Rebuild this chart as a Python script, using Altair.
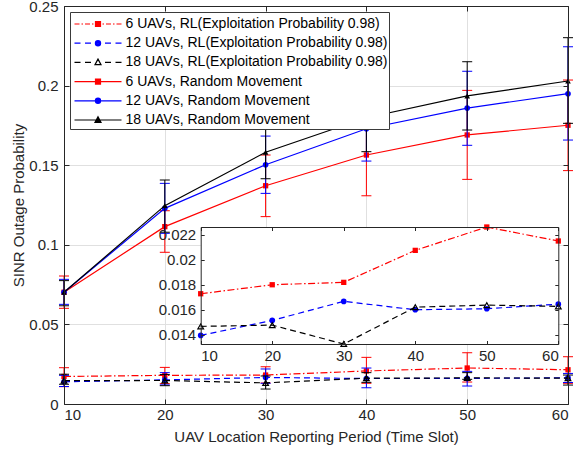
import math
import altair as alt
import pandas as pd

# ---------------- data ----------------
x_vals = [10, 20, 30, 40, 50, 60]

series_names = [
    "6 UAVs, RL(Exploitation Probability 0.98)",
    "12 UAVs, RL(Exploitation Probability 0.98)",
    "18 UAVs, RL(Exploitation Probability 0.98)",
    "6 UAVs, Random Movement",
    "12 UAVs, Random Movement",
    "18 UAVs, Random Movement",
]

rl6 = [0.01728, 0.01800, 0.01819, 0.02075, 0.02262, 0.02150]
rl6_lo = [0.0109, 0.0128, 0.0132, 0.0130, 0.0138, 0.0130]
rl6_hi = [0.0228, 0.0230, 0.0234, 0.0293, 0.0322, 0.0297]

rl12 = [0.01395, 0.01515, 0.01667, 0.01600, 0.01608, 0.01645]
rl12_lo = [0.0110, 0.0120, 0.0130, 0.0102, 0.0113, 0.0135]
rl12_hi = [0.0180, 0.0197, 0.0220, 0.0226, 0.0205, 0.0192]

rl18 = [0.01467, 0.01477, 0.01326, 0.01621, 0.01637, 0.01627]
rl18_lo = [0.0124, 0.0115, 0.0094, 0.0136, 0.0155, 0.0119]
rl18_hi = [0.0187, 0.0185, 0.0176, 0.0197, 0.0197, 0.0182]

rm6 = [0.0702, 0.1114, 0.1371, 0.1564, 0.1690, 0.1751]
rm6_lo = [0.0601, 0.0953, 0.1177, 0.1308, 0.1411, 0.1466]
rm6_hi = [0.0804, 0.1214, 0.1564, 0.1820, 0.1970, 0.2035]

rm12 = [0.0702, 0.1229, 0.1503, 0.1729, 0.1859, 0.1949]
rm12_lo = [0.0626, 0.1072, 0.1323, 0.1526, 0.1625, 0.1658]
rm12_hi = [0.0783, 0.1386, 0.1683, 0.1930, 0.2090, 0.2244]

rm18 = [0.0702, 0.1246, 0.1581, 0.1798, 0.1935, 0.2029]
rm18_lo = [0.0617, 0.1079, 0.1415, 0.1585, 0.1721, 0.1763]
rm18_hi = [0.0775, 0.1407, 0.1738, 0.2008, 0.2150, 0.2301]

y_ticks_main = [0, 0.05, 0.1, 0.15, 0.2, 0.25]
y_ticks_inset = [0.014, 0.016, 0.018, 0.020, 0.022]

# ---------------- style ----------------
RED, BLUE, BLACK = "#ff0000", "#0000ff", "#000000"
AX = "#262626"
GRID = "#e0e0e0"
FONT = "Liberation Sans"
W, H = 504, 398
DASHDOT = [7, 2.5, 1.5, 2.5]
DASH = [6, 4]

# inset placement inside plot area (pixels)
IX0, IX1 = 136.7, 494.3
IY0, IY1 = 221, 338

rl_all = rl6 + rl12 + rl18
ymin, ymax = min(rl_all), max(rl_all)

MX = alt.Scale(domain=[10, 60], nice=False, zero=False)
MY = alt.Scale(domain=[0, 0.25], nice=False, zero=False)
IX = alt.Scale(domain=[10, 60], range=[IX0, IX1], nice=False, zero=False)
IY = alt.Scale(domain=[ymin, ymax], range=[IY1, IY0], nice=False, zero=False)


def tick_axis(orient, offset, values, size):
    return alt.Axis(orient=orient, offset=offset, values=values, labels=False,
                    domain=True, domainColor=AX, domainWidth=1, grid=False,
                    ticks=True, tickSize=size, tickColor=AX, tickWidth=1,
                    title=None, zindex=1)


main_x_axes = [
    alt.Axis(orient="bottom", values=x_vals, grid=True, gridColor=GRID,
             ticks=False, domain=False, labelFontSize=15, labelColor=AX,
             labelFont=FONT, labelPadding=3,
             title="UAV Location Reporting Period (Time Slot)",
             titleFontSize=15, titleFont=FONT, titleColor=AX,
             titleFontWeight="normal", titlePadding=7),
    tick_axis("top", -H, x_vals, 5),
    tick_axis("bottom", -H, x_vals, 5),
]
main_y_axes = [
    alt.Axis(orient="left", values=y_ticks_main, format="~g", grid=True,
             gridColor=GRID, ticks=False, domain=False, labelFontSize=15,
             labelColor=AX, labelFont=FONT, labelPadding=6,
             title="SINR Outage Probability", titleFontSize=15, titleFont=FONT,
             titleColor=AX, titleFontWeight="normal", titlePadding=2),
    tick_axis("right", -W, y_ticks_main, 5),
    tick_axis("left", -W, y_ticks_main, 5),
]

specs = [
    (rl6, rl6_lo, rl6_hi, RED, "square", True, DASHDOT, 28),
    (rl12, rl12_lo, rl12_hi, BLUE, "circle", True, DASH, 32),
    (rl18, rl18_lo, rl18_hi, BLACK, "triangle-up", False, DASH, 32),
    (rm6, rm6_lo, rm6_hi, RED, "square", True, None, 28),
    (rm12, rm12_lo, rm12_hi, BLUE, "circle", True, None, 32),
    (rm18, rm18_lo, rm18_hi, BLACK, "triangle-up", True, None, 32),
]

main_layers = []
ax_i = 0


def next_axes():
    global ax_i
    if ax_i < 3:
        a = (main_x_axes[ax_i], main_y_axes[ax_i])
    else:
        a = (None, None)
    ax_i += 1
    return a


for vals, lo, hi, col, shape, filled, dash, size in specs:
    df = pd.DataFrame({"x": x_vals, "y": vals, "lo": lo, "hi": hi})
    base = alt.Chart(df)
    xa, ya = next_axes()
    main_layers.append(base.mark_rule(color=col, strokeWidth=1).encode(
        x=alt.X("x:Q", scale=MX, axis=xa), y=alt.Y("lo:Q", scale=MY, axis=ya),
        y2="hi:Q"))
    for fld in ["lo", "hi"]:
        xa, ya = next_axes()
        main_layers.append(base.mark_tick(color=col, orient="horizontal", size=10,
                                          thickness=1, opacity=1).encode(
            x=alt.X("x:Q", scale=MX, axis=xa),
            y=alt.Y(f"{fld}:Q", scale=MY, axis=ya)))
    line_kw = dict(color=col, strokeWidth=1.2)
    if dash is not None:
        line_kw["strokeDash"] = dash
    main_layers.append(base.mark_line(**line_kw).encode(
        x=alt.X("x:Q", scale=MX, axis=None), y=alt.Y("y:Q", scale=MY, axis=None)))
    main_layers.append(base.mark_point(shape=shape, filled=filled, color=col,
                                       size=size, opacity=1, strokeWidth=1.2).encode(
        x=alt.X("x:Q", scale=MX, axis=None), y=alt.Y("y:Q", scale=MY, axis=None)))

# ---------------- legend glyphs (line + marker as stroked paths) ----------------
SYM = 361
U = math.sqrt(SYM) / 2         # pixels per path unit


def f(v):
    return f"{v / U:.3f}"


def seg(x0, x1):
    return f"M{f(x0)},0H{f(x1)}"


def square_filled():
    return "".join(f"M{f(-h)},{f(-h)}H{f(h)}V{f(h)}H{f(-h)}Z" for h in (2.5, 1.6, 0.7, 0.15))


def circle_filled():
    out = ""
    for r in (2.6, 1.7, 0.8, 0.2):
        out += f"M{f(r)},0A{f(r)},{f(r)} 0 1,1 {f(-r)},0A{f(r)},{f(r)} 0 1,1 {f(r)},0Z"
    return out


def tri_path(s):
    return f"M0,{f(-3.3 * s)}L{f(3.0 * s)},{f(2.3 * s)}L{f(-3.0 * s)},{f(2.3 * s)}Z"


def tri_filled():
    return "".join(tri_path(s) for s in (1.0, 0.6, 0.25))


solid_line = seg(-23.5, 23.5)
dash_line = "".join(seg(a, b) for a, b in [(-23.5, -17.5), (-13, -7), (7, 13), (17.5, 23.5)])
dashdot_line = "".join(seg(a, b) for a, b in [(-23.5, -18.5), (-16.5, -15), (-13, -8), (-6, -4.5),
                                              (4.5, 6), (8, 13), (15, 16.5), (18.5, 23.5)])

legend_paths = [
    dashdot_line + square_filled(),
    dash_line + circle_filled(),
    dash_line + tri_path(1.0),
    solid_line + square_filled(),
    solid_line + circle_filled(),
    solid_line + tri_filled(),
]
legend_colors = [RED, BLUE, BLACK, RED, BLUE, BLACK]

all_first = [rl6[0], rl12[0], rl18[0], rm6[0], rm12[0], rm18[0]]
leg_df = pd.DataFrame({"series": series_names, "x": [x_vals[0]] * 6, "y": all_first})

leg = alt.Legend(orient="top-left", offset=6, padding=1.5, fillColor="white",
                 strokeColor="#3a3a3a", labelFontSize=14, labelFont=FONT,
                 labelColor="black", symbolSize=SYM, symbolStrokeWidth=1.2,
                 symbolOffset=16, labelOffset=17, rowPadding=1.2, title=None,
                 labelLimit=400)

legend_layer = alt.Chart(leg_df).mark_point(opacity=0, size=SYM, filled=False).encode(
    x=alt.X("x:Q", scale=MX, axis=None),
    y=alt.Y("y:Q", scale=MY, axis=None),
    stroke=alt.Stroke("series:N", scale=alt.Scale(domain=series_names, range=legend_colors), legend=leg),
    shape=alt.Shape("series:N", scale=alt.Scale(domain=series_names, range=legend_paths), legend=leg),
)
main_layers.append(legend_layer)

# ---------------- inset ----------------
inset_x_axes = [
    alt.Axis(orient="bottom", offset=IY1 - H, values=x_vals, grid=False,
             ticks=False, domain=False, labelFontSize=15, labelColor=AX,
             labelFont=FONT, labelPadding=4, title=None, zindex=1),
    tick_axis("top", -IY1, x_vals, 3.5),
    tick_axis("bottom", IY0 - H, x_vals, 3.5),
]
inset_y_axes = [
    alt.Axis(orient="left", offset=-IX0, values=y_ticks_inset, format="~g",
             grid=False, ticks=False, domain=False, labelFontSize=15,
             labelColor=AX, labelFont=FONT, labelPadding=5, title=None, zindex=1),
    tick_axis("right", IX0 - W, y_ticks_inset, 3.5),
    tick_axis("left", -IX1, y_ticks_inset, 3.5),
]

rect_df = pd.DataFrame({"x0": [x_vals[0]], "x1": [x_vals[-1]], "y0": [ymin], "y1": [ymax]})
inset_layers = [
    alt.Chart(rect_df).mark_rect(fill="white").encode(
        x=alt.X("x0:Q", scale=IX, axis=inset_x_axes[0]), x2="x1:Q",
        y=alt.Y("y0:Q", scale=IY, axis=inset_y_axes[0]), y2="y1:Q")
]
k = 1
for vals, lo, hi, col, shape, filled, dash, size in specs[:3]:
    df = pd.DataFrame({"x": x_vals, "y": vals})
    base = alt.Chart(df)
    xa = inset_x_axes[k] if k < 3 else None
    ya = inset_y_axes[k] if k < 3 else None
    k += 1
    inset_layers.append(base.mark_line(color=col, strokeWidth=1.2, strokeDash=dash).encode(
        x=alt.X("x:Q", scale=IX, axis=xa), y=alt.Y("y:Q", scale=IY, axis=ya)))
    inset_layers.append(base.mark_point(shape=shape, filled=filled, color=col,
                                        size=size, opacity=1, strokeWidth=1.2).encode(
        x=alt.X("x:Q", scale=IX, axis=None), y=alt.Y("y:Q", scale=IY, axis=None)))

main = alt.layer(*main_layers).resolve_axis(x="independent", y="independent")
inset = alt.layer(*inset_layers).resolve_axis(x="independent", y="independent")

chart = alt.layer(main, inset).resolve_scale(
    x="independent", y="independent").resolve_axis(
    x="independent", y="independent").properties(
    width=W, height=H,
    autosize=alt.AutoSizeParams(type="none"),
    padding={"left": 64, "top": 6, "right": 8, "bottom": 49},
    background="white",
).configure_view(strokeWidth=0)

chart.save("out.html", embed_options={"renderer": "svg", "actions": False})
